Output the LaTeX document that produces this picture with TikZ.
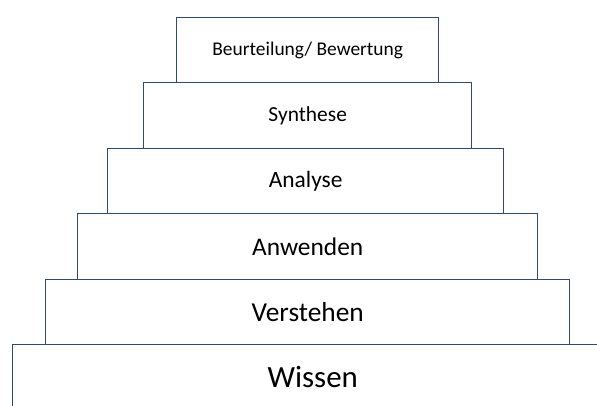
\documentclass[tikz,border=0pt]{standalone}
\usepackage{fontspec}
\setmainfont{Carlito}
\definecolor{edge}{HTML}{2F4A6E}
\begin{document}
\begin{tikzpicture}[x=1bp,y=-1bp,
  tier/.style={draw=edge,line width=1.4bp,fill=white,inner sep=0pt,
    minimum height=65.5bp,anchor=north west,text=black}]
\clip (0,0) rectangle (597,405);
\node[tier,minimum width=600bp,font=\fontsize{31}{32}\selectfont] (wissen) at (12,344) {Wissen};
\node[tier,minimum width=524bp,font=\fontsize{27.5}{30}\selectfont] (verstehen) at (45,278.5) {Verstehen};
\node[tier,minimum width=460bp,font=\fontsize{25.5}{28}\selectfont] (anwenden) at (77,213) {Anwenden};
\node[tier,minimum width=396bp,font=\fontsize{23.5}{26}\selectfont] (analyse) at (107,147.5) {Analyse};
\node[tier,minimum width=328bp,font=\fontsize{21.5}{24}\selectfont] (synthese) at (143,82) {Synthese};
\node[tier,minimum width=262bp,font=\fontsize{19.5}{22}\selectfont] (beurteilung) at (176,16.5) {Beurteilung/ Bewertung};
\end{tikzpicture}
\end{document}
